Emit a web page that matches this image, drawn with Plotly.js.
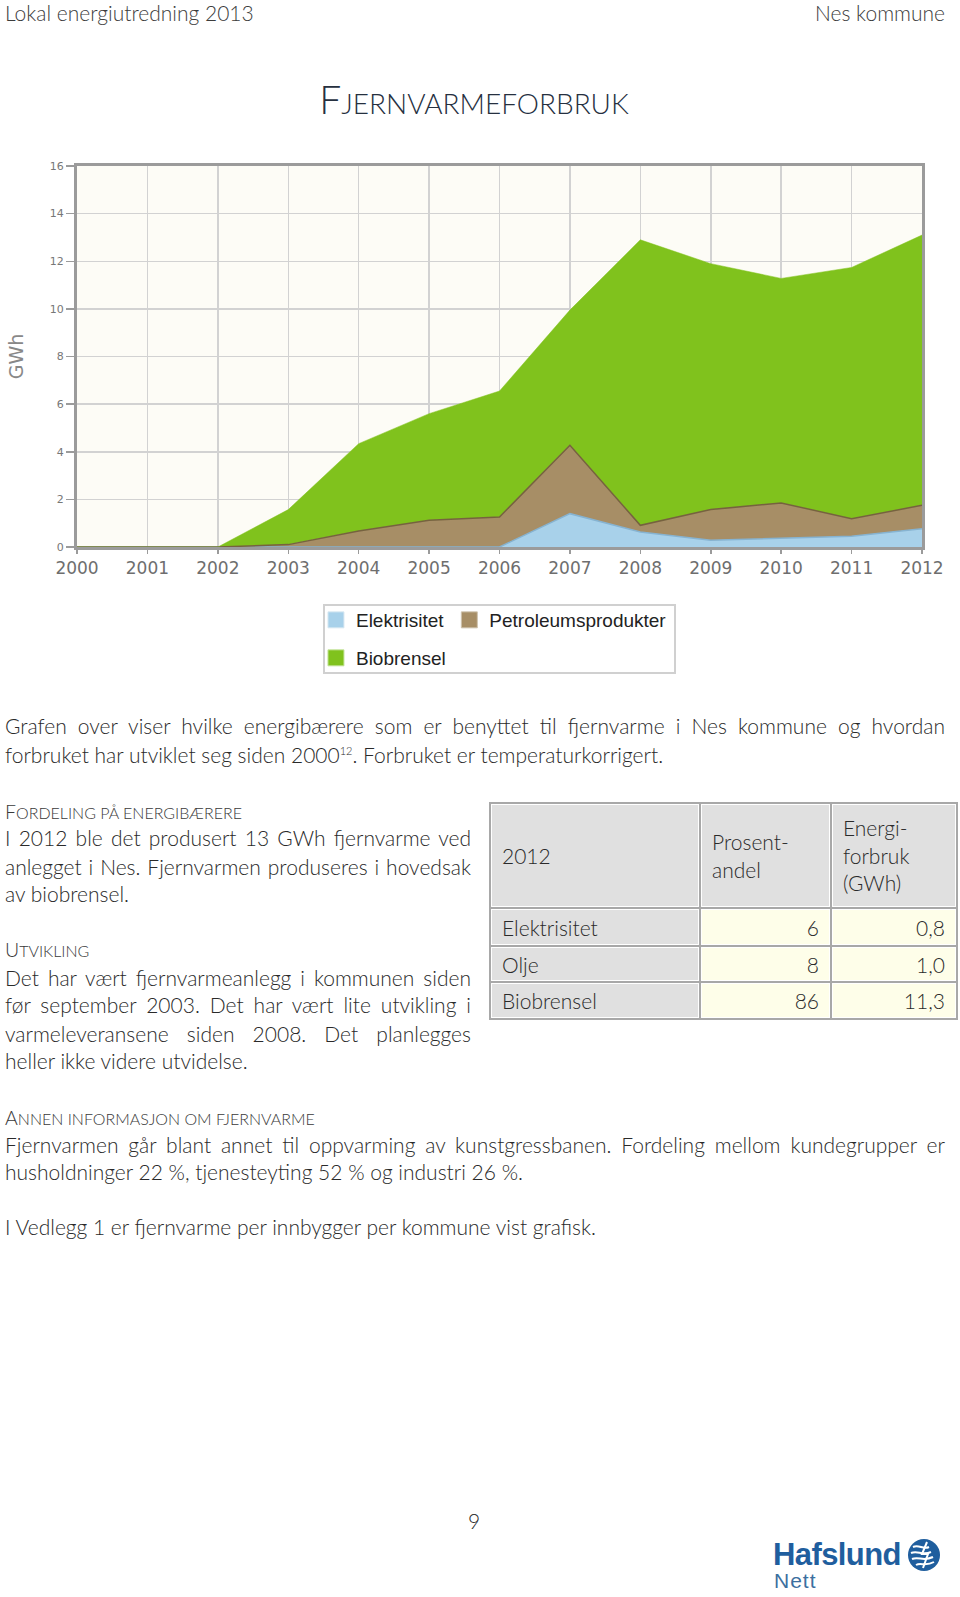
<!DOCTYPE html>
<html>
<head>
<meta charset="utf-8">
<script src="https://cdn.plot.ly/plotly-3.0.1.min.js"></script>
<style>
  html, body { margin: 0; padding: 0; background: #fff; }
  #page { position: relative; width: 960px; height: 1597px; overflow: hidden;
          font-family: "Lato", "Carlito", "Open Sans", sans-serif; font-weight: 300; color: #2a2a2a; }
  .t { position: absolute; white-space: nowrap; font-size: 21px; line-height: 28px; }
  .j { text-align: justify; text-align-last: justify; white-space: normal; }
  .hd { color: #3a3a3a; }
  .hd .b { font-size: 19.5px; }
  .hd .s { font-size: 16px; }
  #chart { position: absolute; left: 0; top: 140px; width: 960px; height: 560px; }
  table.data { position: absolute; left: 489px; top: 802px; border-collapse: collapse; table-layout: fixed;
               width: 467px; font-size: 21px; color: #2a2a2a; }
  table.data td { border: 2px solid #a8a8a8; box-shadow: inset 0 0 0 1px #fff; padding: 0 11px; }
  table.data td.h { background: #e0e0e0; }
  table.data td.v { background: #fefee9; text-align: right; }
  sup { font-size: 11px; line-height: 0; }
</style>
</head>
<body>
<div id="page">
  <div class="t" style="left:5px; top:0px; line-height:26px; color:#3c3c3c;">Lokal energiutredning 2013</div>
  <div class="t" style="right:15px; top:0px; line-height:26px; color:#3c3c3c;">Nes kommune</div>
  <div class="t" style="left:0; width:948px; text-align:center; top:76px; line-height:46px; color:#26303f;"><span style="font-size:39px;">F</span><span style="font-size:28px;">JERNVARMEFORBRUK</span></div>

  <div id="chart"></div>

  <div class="t j" style="left:5px; width:940px; top:712px;">Grafen over viser hvilke energibærere som er benyttet til fjernvarme i Nes kommune og hvordan</div>
  <div class="t" style="left:5px; top:741px;">forbruket har utviklet seg siden 2000<sup>12</sup>. Forbruket er temperaturkorrigert.</div>

  <div class="t hd" style="left:5px; top:797px;"><span class="b">F</span><span class="s">ORDELING PÅ ENERGIBÆRERE</span></div>
  <div class="t j" style="left:5px; width:466px; top:824px;">I 2012 ble det produsert 13 GWh fjernvarme ved</div>
  <div class="t j" style="left:5px; width:466px; top:853px;">anlegget i Nes. Fjernvarmen produseres i hovedsak</div>
  <div class="t" style="left:5px; top:880px;">av biobrensel.</div>

  <div class="t hd" style="left:5px; top:935px;"><span class="b">U</span><span class="s">TVIKLING</span></div>
  <div class="t j" style="left:5px; width:466px; top:964px;">Det har vært fjernvarmeanlegg i kommunen siden</div>
  <div class="t j" style="left:5px; width:466px; top:991px;">før september 2003. Det har vært lite utvikling i</div>
  <div class="t j" style="left:5px; width:466px; top:1020px;">varmeleveransene siden 2008. Det planlegges</div>
  <div class="t" style="left:5px; top:1047px;">heller ikke videre utvidelse.</div>

  <table class="data" id="tbl"></table>

  <div class="t hd" style="left:5px; top:1103px;"><span class="b">A</span><span class="s">NNEN INFORMASJON OM FJERNVARME</span></div>
  <div class="t j" style="left:5px; width:940px; top:1131px;">Fjernvarmen går blant annet til oppvarming av kunstgressbanen. Fordeling mellom kundegrupper er</div>
  <div class="t" style="left:5px; top:1158px;">husholdninger 22 %, tjenesteyting 52 % og industri 26 %.</div>
  <div class="t" style="left:5px; top:1213px;">I Vedlegg 1 er fjernvarme per innbygger per kommune vist grafisk.</div>

  <div class="t" style="left:464px; width:20px; text-align:center; top:1507px;">9</div>

  <div class="t" style="left:773px; top:1536px; font-family:'Liberation Sans','Open Sans',sans-serif; font-weight:bold; font-size:31px; line-height:38px; color:#1f5e9e; letter-spacing:-0.6px;">Hafslund</div>
  <svg style="position:absolute; left:907px; top:1538px;" width="34" height="34" viewBox="0 0 34 34">
    <circle cx="17" cy="17" r="16" fill="#1f5e9e"/>
    <path d="M6,9 C12,6 16,12 22,9 M4,15 C11,12 15,18 24,14 M5,21 C12,18 16,24 26,19 M9,27 C14,24 18,29 27,24" stroke="#fff" stroke-width="2" fill="none"/>
    <path d="M20,4 L15,16 L21,16 L16,30" stroke="#fff" stroke-width="2" fill="none"/>
  </svg>
  <div class="t" style="left:774px; top:1568px; font-family:'Liberation Sans','Open Sans',sans-serif; font-weight:normal; font-size:21px; line-height:26px; color:#3d6f9f; letter-spacing:1px;">Nett</div>
</div>

<script>
// ---- Chart data (GWh) ----
const years = [2000, 2001, 2002, 2003, 2004, 2005, 2006, 2007, 2008, 2009, 2010, 2011, 2012];
const elektrisitet = [0, 0, 0, 0, 0, 0, 0, 1.40, 0.63, 0.28, 0.35, 0.45, 0.77];
const petroleumsprodukter = [0, 0, 0, 0.10, 0.67, 1.12, 1.26, 2.87, 0.28, 1.29, 1.50, 0.74, 0.98];
const biobrensel = [0, 0, 0, 1.47, 3.67, 4.48, 5.29, 5.68, 11.99, 10.33, 9.43, 10.55, 11.35];
const seriesNames = ['Elektrisitet', 'Petroleumsprodukter', 'Biobrensel'];
const yTicks = [0, 2, 4, 6, 8, 10, 12, 14, 16];

// ---- Table data (2012) ----
const tableHeader = ['2012', 'Prosent-<br>andel', 'Energi-<br>forbruk<br>(GWh)'];
const tableRows = ['Elektrisitet', 'Olje', 'Biobrensel'];
const tableShare = [6, 8, 86];
const tableGWh = ['0,8', '1,0', '11,3'];

const colors = { el: '#a8d1ea', pet: '#a78e66', bio: '#80c21d' };

// build table
(function () {
  const tbl = document.getElementById('tbl');
  const widths = [210, 131, 126];
  let html = '<colgroup>' + widths.map(w => '<col style="width:' + w + 'px">').join('') + '</colgroup>';
  html += '<tr style="height:105px">';
  tableHeader.forEach((h) => {
    html += '<td class="h" style="line-height:27.5px; vertical-align:middle;">' + h + '</td>';
  });
  html += '</tr>';
  const rowH = [38, 36, 37];
  tableRows.forEach((r, i) => {
    html += '<tr style="height:' + rowH[i] + 'px"><td class="h">' + r + '</td><td class="v">' + tableShare[i] +
      '</td><td class="v">' + tableGWh[i] + '</td></tr>';
  });
  tbl.innerHTML = html;
})();

const traces = [
  { x: years, y: elektrisitet, name: seriesNames[0], type: 'scatter', mode: 'lines', stackgroup: 'one',
    fillcolor: colors.el, line: { color: '#86b3d1', width: 1.5 }, showlegend: false, hoverinfo: 'x+y+name' },
  { x: years, y: petroleumsprodukter, name: seriesNames[1], type: 'scatter', mode: 'lines', stackgroup: 'one',
    fillcolor: colors.pet, line: { color: '#76623f', width: 1.5 }, showlegend: false, hoverinfo: 'x+y+name' },
  { x: years, y: biobrensel, name: seriesNames[2], type: 'scatter', mode: 'lines', stackgroup: 'one',
    fillcolor: colors.bio, line: { color: colors.bio, width: 0.5 }, showlegend: false, hoverinfo: 'x+y+name' },
  // legend-only entries (square swatches)
  { x: [null], y: [null], name: seriesNames[0], type: 'scatter', mode: 'markers', legend: 'legend',
    marker: { symbol: 'square', size: 16, color: colors.el, line: { color: '#d8e8f2', width: 1 } } },
  { x: [null], y: [null], name: seriesNames[1], type: 'scatter', mode: 'markers', legend: 'legend',
    marker: { symbol: 'square', size: 16, color: colors.pet, line: { color: '#cfc2ad', width: 1 } } },
  { x: [null], y: [null], name: seriesNames[2], type: 'scatter', mode: 'markers', legend: 'legend2',
    marker: { symbol: 'square', size: 16, color: colors.bio, line: { color: '#c4e39a', width: 1 } } }
];

const legendCommon = {
  orientation: 'h', xanchor: 'left', yanchor: 'middle', x: 0.2828, traceorder: 'normal',
  bgcolor: 'rgba(0,0,0,0)', borderwidth: 0, itemsizing: 'trace',
  font: { family: 'Liberation Sans, Arial, sans-serif', size: 19, color: '#222' }
};

const layout = {
  width: 960, height: 560,
  margin: { l: 77, r: 38, t: 26, b: 153 },
  paper_bgcolor: 'rgba(0,0,0,0)',
  plot_bgcolor: '#fdfcf6',
  showlegend: true,
  legend: Object.assign({}, legendCommon, { y: -0.1916 }),
  legend2: Object.assign({}, legendCommon, { y: -0.2913 }),
  xaxis: {
    range: [2000, 2012], tickmode: 'array', tickvals: years, ticktext: years.map(String),
    showgrid: true, gridcolor: '#d2d2d2', gridwidth: 1.5,
    showline: true, linecolor: '#9b9b9b', linewidth: 3, mirror: true,
    ticks: 'outside', ticklen: 4, tickcolor: '#9b9b9b', tickwidth: 1.5,
    tickfont: { family: 'DejaVu Sans, Verdana, sans-serif', size: 17, color: '#6e6e6e' },
    zeroline: false, fixedrange: true
  },
  yaxis: {
    range: [0, 16], tickmode: 'array', tickvals: yTicks,
    showgrid: true, gridcolor: '#d2d2d2', gridwidth: 1.5,
    showline: true, linecolor: '#9b9b9b', linewidth: 3, mirror: true,
    ticks: 'outside', ticklen: 8, tickcolor: '#9b9b9b', tickwidth: 1.5,
    tickfont: { family: 'DejaVu Sans, Verdana, sans-serif', size: 11, color: '#777' },
    title: { text: 'GWh', standoff: 22, font: { family: 'DejaVu Sans, Verdana, sans-serif', size: 19, color: '#888' } },
    zeroline: false, fixedrange: true
  },
  shapes: [
    { type: 'rect', xref: 'paper', yref: 'paper', x0: 0.2923, x1: 0.7077, y0: -0.3307, y1: -0.1522,
      line: { color: '#d0d0d0', width: 2 }, fillcolor: 'rgba(0,0,0,0)', layer: 'below' }
  ]
};

Plotly.newPlot('chart', traces, layout, { displayModeBar: false, staticPlot: true });
</script>
</body>
</html>
